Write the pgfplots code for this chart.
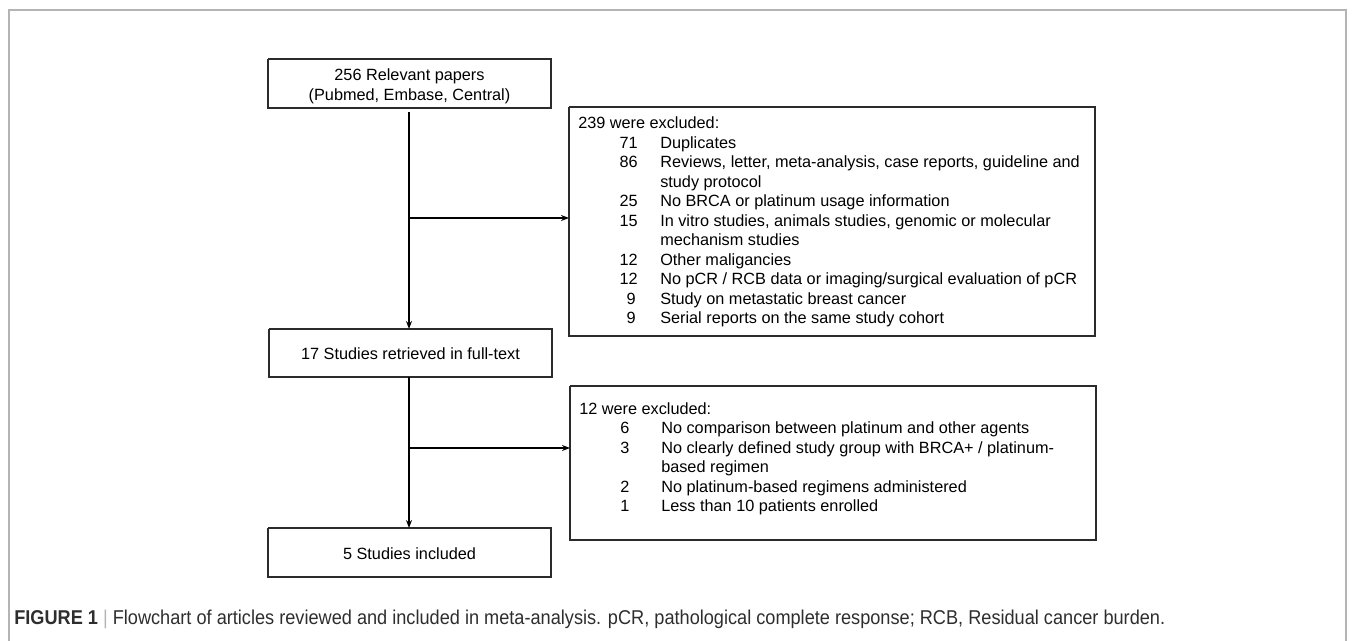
\documentclass[border=0pt]{standalone}
\usepackage{fontspec}
\setmainfont{Liberation Sans}
\usepackage{pgfplots}
\pgfplotsset{compat=1.18}
\usetikzlibrary{arrows.meta}
\definecolor{boxc}{HTML}{2B2B2B}
\definecolor{framec}{HTML}{B4B4B4}
\definecolor{capc}{HTML}{2E2E2E}
\tikzset{t/.style={font=\fontsize{12.2pt}{14pt}\selectfont, text=black, inner sep=0pt}}
\begin{document}
\fontsize{12.2pt}{14pt}\selectfont
\begin{tikzpicture}
\begin{axis}[x=0.75pt,y=0.75pt,xmin=0,xmax=1355,ymin=0,ymax=641,
  y dir=reverse,hide axis,clip=false]
% outer frame
\addplot[framec,line width=1.1pt] coordinates {(9,641)(9,10)(1346,10)(1346,641)};
% boxes
\addplot[boxc,line width=1.3pt,line join=miter] coordinates {(268,59)(551,59)(551,108)(268,108)(268,59)};
\addplot[boxc,line width=1.3pt,line join=miter] coordinates {(269,329)(552,329)(552,377)(269,377)(269,329)};
\addplot[boxc,line width=1.3pt,line join=miter] coordinates {(268,528)(551,528)(551,577)(268,577)(268,528)};
\addplot[boxc,line width=1.3pt,line join=miter] coordinates {(569,107)(1095,107)(1095,336)(569,336)(569,107)};
\addplot[boxc,line width=1.3pt,line join=miter] coordinates {(570,386)(1096,386)(1096,540)(570,540)(570,386)};
% arrows
\addplot[black,line width=1.3pt,-{Stealth[length=6pt,width=4.5pt]}] coordinates {(409,112)(409,329)};
\addplot[black,line width=1.3pt,-{Stealth[length=6pt,width=4.5pt]}] coordinates {(409,218)(569,218)};
\addplot[black,line width=1.3pt,-{Stealth[length=6pt,width=4.5pt]}] coordinates {(409,377)(409,528)};
\addplot[black,line width=1.3pt,-{Stealth[length=6pt,width=4.5pt]}] coordinates {(409,448)(570,448)};
% box texts
\node[t,anchor=base] at (axis cs:409.5,81) {256 Relevant papers};
\node[t,anchor=base] at (axis cs:409.5,101) {(Pubmed, Embase, Central)};
\node[t,anchor=base] at (axis cs:410.5,359) {17 Studies retrieved in full-text};
\node[t,anchor=base] at (axis cs:409.5,559) {5 Studies included};
% exclusion box 1
\node[t,anchor=base west] at (axis cs:578,129) {239 were excluded:};
\node[t,anchor=base east] at (axis cs:638,148.5) {71};
\node[t,anchor=base west] at (axis cs:660,148.5) {Duplicates};
\node[t,anchor=base east] at (axis cs:638,168) {86};
\node[t,anchor=base west] at (axis cs:660,168) {Reviews, letter, meta-analysis, case reports, guideline and};
\node[t,anchor=base west] at (axis cs:660,187.5) {study protocol};
\node[t,anchor=base east] at (axis cs:638,207) {25};
\node[t,anchor=base west] at (axis cs:660,207) {No BRCA or platinum usage information};
\node[t,anchor=base east] at (axis cs:638,226.5) {15};
\node[t,anchor=base west] at (axis cs:660,226.5) {In vitro studies, animals studies, genomic or molecular};
\node[t,anchor=base west] at (axis cs:660,246) {mechanism studies};
\node[t,anchor=base east] at (axis cs:638,265.5) {12};
\node[t,anchor=base west] at (axis cs:660,265.5) {Other maligancies};
\node[t,anchor=base east] at (axis cs:638,285) {12};
\node[t,anchor=base west] at (axis cs:660,285) {No pCR / RCB data or imaging/surgical evaluation of pCR};
\node[t,anchor=base east] at (axis cs:636,304.5) {9};
\node[t,anchor=base west] at (axis cs:660,304.5) {Study on metastatic breast cancer};
\node[t,anchor=base east] at (axis cs:636,324) {9};
\node[t,anchor=base west] at (axis cs:660,324) {Serial reports on the same study cohort};
% exclusion box 2
\node[t,anchor=base west] at (axis cs:579,414) {12 were excluded:};
\node[t,anchor=base] at (axis cs:625,433.5) {6};
\node[t,anchor=base west] at (axis cs:661,433.5) {No comparison between platinum and other agents};
\node[t,anchor=base] at (axis cs:625,453) {3};
\node[t,anchor=base west] at (axis cs:661,453) {No clearly defined study group with BRCA+ / platinum-};
\node[t,anchor=base west] at (axis cs:661,472.5) {based regimen};
\node[t,anchor=base] at (axis cs:625,492) {2};
\node[t,anchor=base west] at (axis cs:661,492) {No platinum-based regimens administered};
\node[t,anchor=base] at (axis cs:625,511.5) {1};
\node[t,anchor=base west] at (axis cs:661,511.5) {Less than 10 patients enrolled};
% caption
\node[t,anchor=base west, text=capc] at (axis cs:14,624) {\scalebox{0.908}[1]{\fontsize{15pt}{17pt}\selectfont\textbf{FIGURE 1} {\color{framec}|} Flowchart of articles reviewed and included in meta-analysis. pCR, pathological complete response; RCB, Residual cancer burden.}};
\coordinate (sw) at (axis cs:0,641);
\coordinate (ne) at (axis cs:1355,0);
\end{axis}
\pgfresetboundingbox
\path (sw) rectangle (ne);
\end{tikzpicture}
\end{document}
